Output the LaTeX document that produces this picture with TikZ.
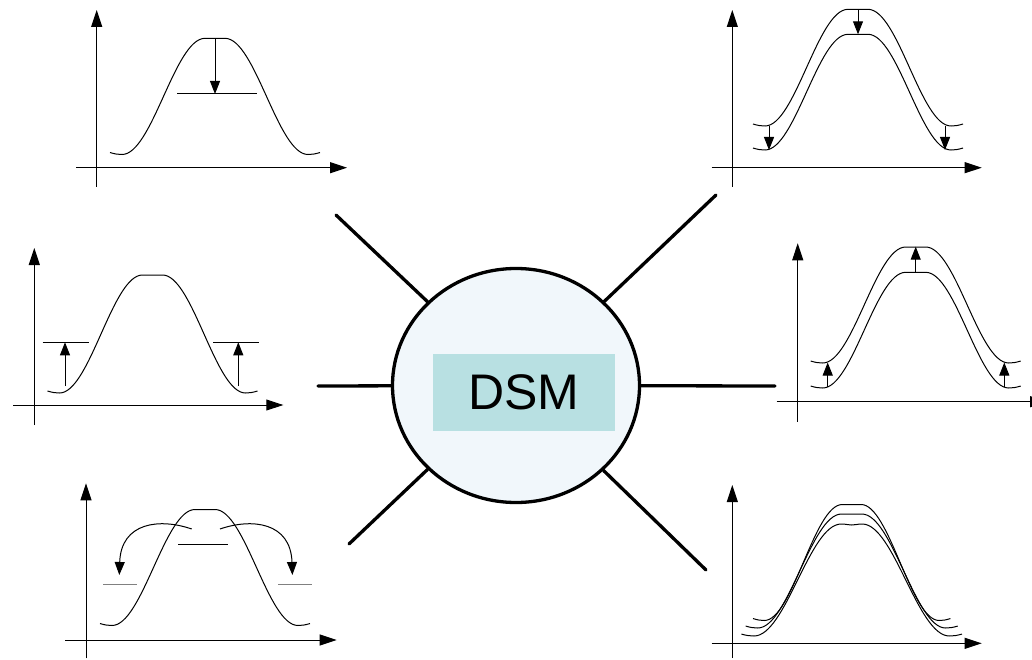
\documentclass[tikz,border=0pt]{standalone}
\usepackage{fontspec}
\setmainfont{Liberation Sans}
\usetikzlibrary{arrows.meta,shapes.geometric}
\definecolor{ellfill}{HTML}{F1F7FB}
\definecolor{boxfill}{HTML}{B8E0E2}
\definecolor{lvlgray}{HTML}{808080}
\tikzset{
  pics/bell/.style={code={
    \draw[curve] (-105,0.017) .. controls (-100,0.004) and (-97,0) .. (-93,0)
      .. controls (-62.8,0) and (-40.2,1) .. (-10,1)
      .. controls (-5,1) and (-4,#1) .. (0,#1)
      .. controls (4,#1) and (5,1) .. (10,1)
      .. controls (40.2,1) and (62.8,0) .. (93,0)
      .. controls (97,0) and (100,0.004) .. (105,0.017);
  }}
}
\begin{document}
\begin{tikzpicture}[x=1pt,y=-1pt,
  curve/.style={line width=1pt},
  axis/.style={line width=1pt,-{Triangle[length=17pt,width=11pt]}},
  sarrow/.style={line width=1pt,-{Triangle[length=13pt,width=10pt]}},
  lvl/.style={line width=1pt},
  spoke/.style={line width=3.3pt,line cap=round},
  ]
\useasboundingbox (0,0) rectangle (1032,660);

% ---------- centre ----------
\node[ellipse,draw,line width=3.3pt,fill=ellfill,minimum width=247pt,minimum height=234pt,inner sep=0pt] (dsm) at (516,385.5) {};
\node[rectangle,fill=boxfill,minimum width=182pt,minimum height=77pt,inner sep=0pt,font=\fontsize{50}{50}\selectfont] (lbl) at (524,392.5) {DSM};

\coordinate (s1) at (336,215);
\coordinate (s2) at (716,195);
\coordinate (s3) at (318,386);
\coordinate (s4) at (775,386);
\coordinate (s5) at (349,544);
\coordinate (s6) at (706,570);
\foreach \s in {s1,s2,s3,s4,s5,s6} \draw[spoke] (\s) -- (dsm);

% ---------- panel 1 (top left) ----------
\draw[axis] (96.7,187) -- (96.7,10);
\draw[axis] (76,167.7) -- (347,167.7);
\pic[yscale=-116.2] at (215,154.5) {bell=1};
\draw[lvl] (177,94) -- (257,94);
\draw[sarrow] (215,38.3) -- (215,94);

% ---------- panel 2 (top right) ----------
\draw[axis] (732.3,187) -- (732.3,10);
\draw[axis] (711.7,167.7) -- (981.7,167.7);
\pic[yscale=-116.7] at (858,126) {bell=1};
\pic[yscale=-115.7] at (858,150) {bell=1};
\draw[sarrow] (858,9.3) -- (858,34.3);
\draw[sarrow] (769,126) -- (769,150);
\draw[sarrow] (945,126) -- (945,150);

% ---------- panel 3 (middle left) ----------
\draw[axis] (34.3,425) -- (34.3,248);
\draw[axis] (13.3,405) -- (283.3,405);
\pic[yscale=-118] at (152.5,393) {bell=1};
\draw[lvl] (42.7,342.3) -- (89.3,342.3);
\draw[lvl] (213.3,342.3) -- (259.3,342.3);
\draw[sarrow] (65,386) -- (65,342.3);
\draw[sarrow] (238.3,386) -- (238.3,342.3);

% ---------- panel 4 (middle right) ----------
\draw[axis] (797.7,421.7) -- (797.7,243.3);
\draw[axis] (776.7,401.7) -- (1047,401.7);
\pic[yscale=-116] at (915.7,363) {bell=1};
\pic[yscale=-115.7] at (915.7,388) {bell=1};
\draw[sarrow] (915.7,272.3) -- (915.7,246.7);
\draw[sarrow] (827.7,387) -- (827.7,362.5);
\draw[sarrow] (1004.3,387) -- (1004.3,362.5);

% ---------- panel 5 (bottom left) ----------
\draw[axis] (86,658.3) -- (86,483.3);
\draw[axis] (65,640) -- (336.7,640);
\pic[yscale=-116] at (205,625.5) {bell=1};
\draw[lvl] (178.3,544) -- (228.3,544);
\draw[lvl,lvlgray] (103.3,584) -- (136.7,584);
\draw[lvl,lvlgray] (278.3,584) -- (311.7,584);
\draw[sarrow] (191.7,529) .. controls (160,518) and (121,522) .. (119.3,575);
\draw[sarrow] (220,529) .. controls (251.7,518) and (290.7,522) .. (292.4,575);

% ---------- panel 6 (bottom right) ----------
\draw[axis] (732.3,658) -- (732.3,485);
\draw[axis] (711.7,643.3) -- (981.7,643.3);
\pic[xscale=0.94,yscale=-116] at (851.7,620.5) {bell=1};
\pic[xscale=1.01,yscale=-114] at (851.7,628) {bell=0.998};
\pic[xscale=1.05,yscale=-112] at (851.7,636) {bell=0.991};
\end{tikzpicture}
\end{document}
